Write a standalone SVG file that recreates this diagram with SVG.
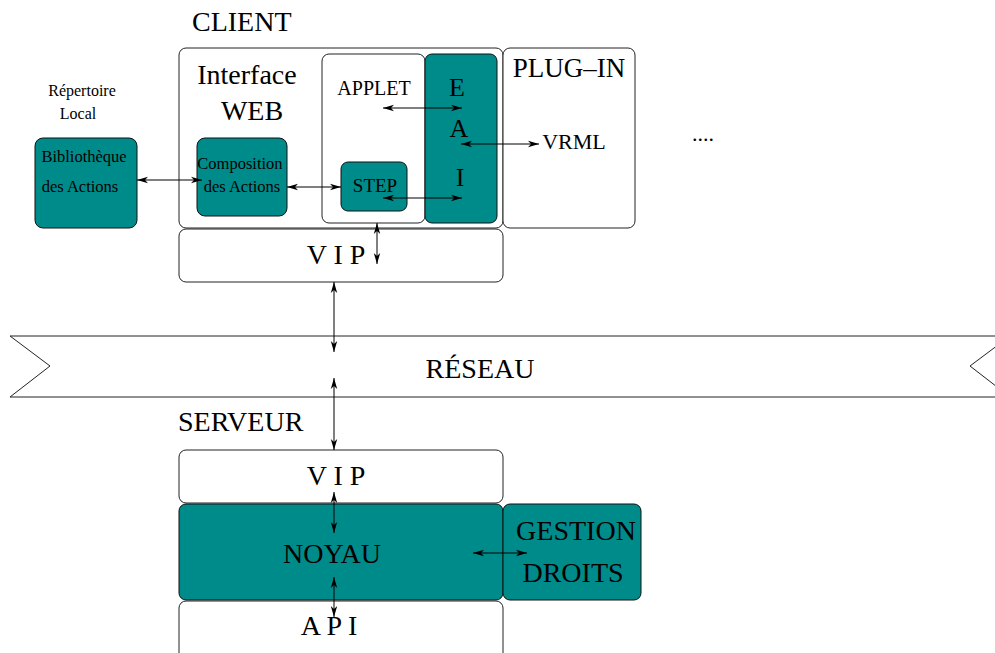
<svg xmlns="http://www.w3.org/2000/svg" width="995" height="653" viewBox="0 0 995 653">
<style>
text{font-family:"Liberation Serif","Times New Roman",serif;fill:#000}
.box{fill:#fff;stroke:#222;stroke-width:1}
.teal{fill:#008b8b;stroke:#111;stroke-width:1}
.ln{stroke:#000;stroke-width:1;fill:none;marker-start:url(#ah);marker-end:url(#ah)}
</style>
<defs>
<marker id="ah" viewBox="0 -4 12 8" refX="11" refY="0" markerWidth="12" markerHeight="8" markerUnits="userSpaceOnUse" orient="auto-start-reverse">
<path d="M0,-3.2 L11,0 L0,3.2 L3,0 Z" fill="#000"/>
</marker>
</defs>
<rect width="995" height="653" fill="#fff"/>

<g id="labels">
<text x="192" y="31" font-size="28">CLIENT</text>
<text x="82" y="96" font-size="16" text-anchor="middle">Répertoire</text>
<text x="78" y="119" font-size="16" text-anchor="middle">Local</text>
<text x="703" y="141" font-size="22" text-anchor="middle">....</text>
<text x="178" y="431" font-size="28">SERVEUR</text>
</g>

<g id="client">
<rect class="box" x="179" y="48" width="324" height="180" rx="7"/>
<text x="247" y="84" font-size="28" text-anchor="middle">Interface</text>
<text x="252" y="120" font-size="28" text-anchor="middle">WEB</text>
</g>

<g id="applet">
<rect class="box" x="322" y="54" width="103" height="169" rx="7"/>
<text x="374" y="95" font-size="20" text-anchor="middle">APPLET</text>
</g>

<g id="eai">
<rect class="teal" x="425" y="54" width="72" height="169" rx="7"/>
<text x="457" y="96" font-size="26" text-anchor="middle">E</text>
<text x="459" y="137" font-size="26" text-anchor="middle">A</text>
<text x="460" y="186" font-size="26" text-anchor="middle">I</text>
</g>

<g id="plugin">
<rect class="box" x="503" y="48" width="132" height="180" rx="7"/>
<text x="569" y="77" font-size="27" text-anchor="middle">PLUG–IN</text>
<text x="574" y="149" font-size="22" text-anchor="middle">VRML</text>
</g>

<g id="step">
<rect class="teal" x="341" y="162" width="66" height="49" rx="7"/>
<text x="375" y="192" font-size="19" text-anchor="middle">STEP</text>
</g>

<g id="composition">
<rect class="teal" x="197" y="138" width="90" height="78" rx="8"/>
<text x="240" y="169" font-size="16.5" text-anchor="middle">Composition</text>
<text x="242" y="192" font-size="16.5" text-anchor="middle">des Actions</text>
</g>

<g id="bibliotheque">
<rect class="teal" x="35" y="138" width="102" height="90" rx="8"/>
<text x="84" y="162" font-size="16.5" text-anchor="middle">Bibliothèque</text>
<text x="80" y="192" font-size="16.5" text-anchor="middle">des Actions</text>
</g>

<g id="vip-client">
<rect class="box" x="179" y="229" width="324" height="53" rx="7"/>
<text x="336" y="264" font-size="28" text-anchor="middle">V I P</text>
</g>

<g id="reseau">
<polygon points="10,336 1010,336 970,366 1010,397 10,397 50,366" fill="#fff" stroke="#222" stroke-width="1"/>
<text x="480" y="378" font-size="28" text-anchor="middle">RÉSEAU</text>
</g>

<g id="vip-serveur">
<rect class="box" x="179" y="450" width="324" height="53" rx="7"/>
<text x="336" y="485" font-size="28" text-anchor="middle">V I P</text>
</g>

<g id="noyau">
<rect class="teal" x="179" y="504" width="324" height="96" rx="7"/>
<text x="332" y="563" font-size="28" text-anchor="middle">NOYAU</text>
</g>

<g id="gestion">
<rect class="teal" x="503" y="504" width="138" height="96" rx="7"/>
<text x="576" y="540" font-size="28" text-anchor="middle">GESTION</text>
<text x="573" y="582" font-size="28" text-anchor="middle">DROITS</text>
</g>

<g id="api">
<rect class="box" x="179" y="601" width="324" height="60" rx="7"/>
<text x="329" y="635" font-size="28" text-anchor="middle">A P I</text>
</g>

<g id="connectors">
<line class="ln" x1="137" y1="180" x2="202" y2="180"/>
<line class="ln" x1="287" y1="187" x2="341" y2="187"/>
<line class="ln" x1="383" y1="108" x2="462" y2="108"/>
<line class="ln" x1="461" y1="144" x2="539" y2="144"/>
<line class="ln" x1="383" y1="198" x2="462" y2="198"/>
<line class="ln" x1="377" y1="223" x2="377" y2="264"/>
<line class="ln" x1="334" y1="282" x2="334" y2="352"/>
<line class="ln" x1="334" y1="378" x2="334" y2="450"/>
<line class="ln" x1="334" y1="492" x2="334" y2="533"/>
<line class="ln" x1="334" y1="577" x2="334" y2="617"/>
<line class="ln" x1="473" y1="553" x2="527" y2="553"/>
</g>
</svg>
